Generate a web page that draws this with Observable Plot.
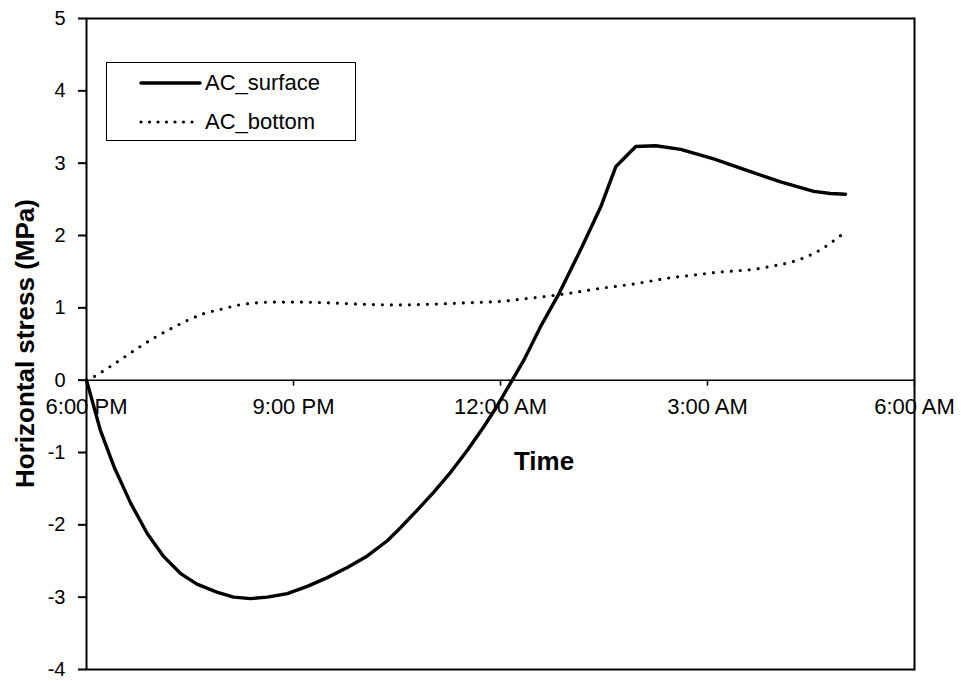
<!DOCTYPE html>
<html>
<head>
<meta charset="utf-8">
<script src="https://cdn.jsdelivr.net/npm/d3@7"></script>
<script src="https://cdn.jsdelivr.net/npm/@observablehq/plot@0.6"></script>
<style>
  body { margin: 0; background: #fff; }
  #chart { position: relative; width: 961px; height: 681px; font-family: "Liberation Sans", Arial, sans-serif; }
  #legend { position: absolute; left: 106px; top: 62px; width: 248px; height: 77px; border: 1.5px solid #000; background: #fff; }
  #legend .row { position: absolute; left: 0; height: 30px; display: flex; align-items: center; }
  #legend svg { display: block; }
  #legend span { font-size: 22px; color: #000; margin-left: 3px; }
</style>
</head>
<body>
<div id="chart"></div>
<script>
// Time axis: hours elapsed since 6:00 PM
const surfaceHours = [0, 0.2, 0.4, 0.64, 0.88, 1.12, 1.36, 1.6, 1.89, 2.13, 2.38, 2.62, 2.91, 3.2, 3.49, 3.78, 4.07, 4.36, 4.55, 4.79, 5.03, 5.28, 5.52, 5.76, 5.95, 6.17, 6.34, 6.58, 6.85, 7.18, 7.45, 7.67, 7.96, 8.25, 8.61, 9.09, 9.57, 10.06, 10.54, 10.78, 11.0];
const surfaceStress = [0, -0.69, -1.20, -1.70, -2.12, -2.44, -2.67, -2.82, -2.93, -3.0, -3.02, -3.0, -2.95, -2.85, -2.73, -2.59, -2.43, -2.22, -2.04, -1.80, -1.55, -1.27, -0.97, -0.64, -0.36, 0, 0.28, 0.74, 1.20, 1.84, 2.39, 2.95, 3.23, 3.24, 3.19, 3.06, 2.90, 2.74, 2.61, 2.58, 2.57];

const bottomHours = [0, 0.11, 0.33, 0.55, 0.77, 0.99, 1.22, 1.45, 1.7, 1.95, 2.21, 2.47, 2.72, 3.0, 3.5, 4.0, 4.5, 5.0, 5.5, 6.0, 6.48, 6.92, 7.45, 7.93, 8.42, 8.86, 9.13, 9.38, 9.65, 9.9, 10.16, 10.42, 10.65, 10.86, 11.0];
const bottomStress = [0, 0.05, 0.18, 0.32, 0.46, 0.59, 0.71, 0.82, 0.92, 0.98, 1.04, 1.07, 1.08, 1.08, 1.07, 1.05, 1.04, 1.05, 1.07, 1.09, 1.14, 1.19, 1.27, 1.33, 1.41, 1.46, 1.49, 1.51, 1.53, 1.57, 1.62, 1.70, 1.81, 1.95, 2.05];

const xTickHours = [0, 3, 6, 9, 12];
const xTickLabels = ["6:00 PM", "9:00 PM", "12:00 AM", "3:00 AM", "6:00 AM"];
const yTicks = [-4, -3, -2, -1, 0, 1, 2, 3, 4, 5];
const seriesNames = ["AC_surface", "AC_bottom"];
const xTitle = "Time";
const yTitle = "Horizontal stress (MPa)";

const surface = surfaceHours.map((h, i) => ({h, v: surfaceStress[i]}));
const bottom = bottomHours.map((h, i) => ({h, v: bottomStress[i]}));

const font = "Liberation Sans, Arial, sans-serif";

const svg = Plot.plot({
  width: 961,
  height: 681,
  marginLeft: 86,
  marginRight: 47,
  marginTop: 18,
  marginBottom: 12,
  style: {fontFamily: font, background: "#fff", color: "#000", overflow: "visible"},
  x: {domain: [0, 12], axis: null},
  y: {domain: [-4, 5], axis: null},
  marks: [
    Plot.frame({stroke: "#000", strokeWidth: 2}),
    Plot.axisY(yTicks, {anchor: "left", tickSize: 8, tickPadding: 13, fontSize: 20, label: null, strokeWidth: 2, tickFormat: d => String(d)}),
    Plot.ruleY([0], {stroke: "#000", strokeWidth: 1.5}),
    Plot.ruleX(xTickHours, {x: d => d, y1: 0, y2: 0, insetBottom: -6, stroke: "#000", strokeWidth: 1.5}),
    Plot.text(xTickHours, {x: d => d, y: 0, text: (d, i) => xTickLabels[i], dy: 27, fontSize: 22, fill: "#000"}),
    Plot.line(bottom, {x: "h", y: "v", stroke: "#000", strokeWidth: 3.2, strokeDasharray: "0 9", strokeLinecap: "round", curve: "monotone-x"}),
    Plot.line(surface, {x: "h", y: "v", stroke: "#000", strokeWidth: 3.4, strokeLinejoin: "round", curve: "linear"})
  ]
});

const s = d3.select(svg);
s.append("text")
  .attr("x", 544).attr("y", 470)
  .attr("text-anchor", "middle")
  .attr("font-family", font).attr("font-weight", "bold").attr("font-size", 26)
  .attr("fill", "#000")
  .text(xTitle);
s.append("text")
  .attr("transform", "translate(34,343.5) rotate(-90)")
  .attr("text-anchor", "middle")
  .attr("font-family", font).attr("font-weight", "bold").attr("font-size", 26)
  .attr("fill", "#000")
  .text(yTitle);

const chart = document.getElementById("chart");
chart.appendChild(svg);

// Legend box with line samples
const legend = d3.select(chart).append("div").attr("id", "legend");
const rowTops = [5, 44];
seriesNames.forEach((name, i) => {
  const row = legend.append("div").attr("class", "row").style("top", rowTops[i] + "px");
  const sample = row.append("svg").attr("width", 95).attr("height", 30);
  sample.append("line")
    .attr("x1", 34).attr("x2", 93).attr("y1", 15).attr("y2", 15)
    .attr("stroke", "#000").attr("stroke-width", i === 0 ? 3.5 : 3.2)
    .attr("stroke-linecap", "round")
    .attr("stroke-dasharray", i === 0 ? null : "0 8.5");
  row.append("span").text(name);
});
</script>
</body>
</html>
